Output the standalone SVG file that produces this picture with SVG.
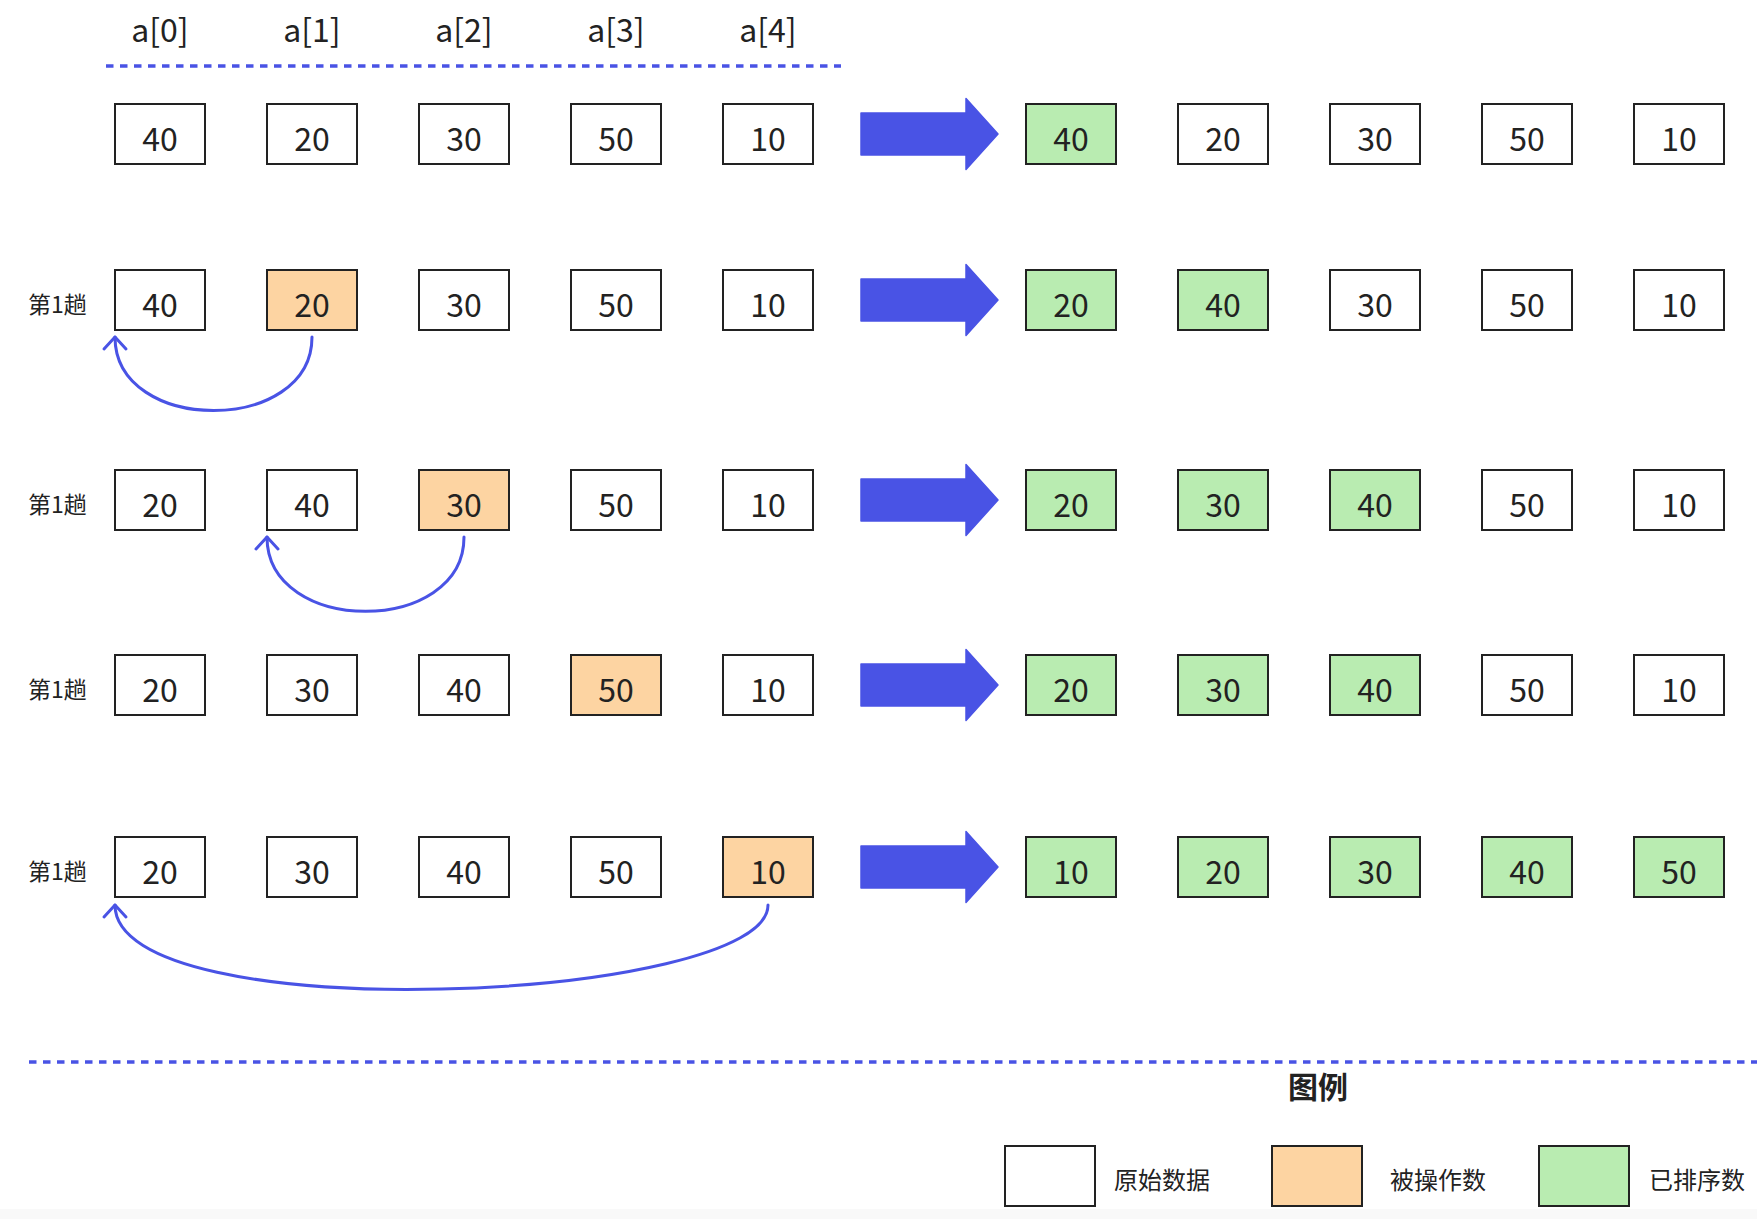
<svg xmlns="http://www.w3.org/2000/svg" width="1757" height="1219" viewBox="0 0 1757 1219">
<style>
text{font-family:"Noto Sans CJK SC","Noto Sans",sans-serif;fill:#222}
.b{stroke:#222;stroke-width:2}
.w{fill:#fff}
.o{fill:#fdd4a2}
.g{fill:#b9ecb1}
.v{font-size:32px;text-anchor:middle}
.h{font-size:32px;text-anchor:middle}
.lab{font-size:23px}
.leg{font-size:24px}
.dash{stroke:#4953e5;stroke-width:3.3;stroke-dasharray:7.5 6.5;fill:none}
.curve{fill:none;stroke:#4953e5;stroke-width:3;stroke-linecap:round}
.big{fill:#4953e5;stroke:#4953e5;stroke-width:1.5;stroke-linejoin:round}
</style>
<defs>
<marker id="chev" viewBox="-16 -16 32 32" markerWidth="32" markerHeight="32" refX="0" refY="0" orient="auto" markerUnits="userSpaceOnUse">
<path d="M-12,-11 L0,0 L-12,11" fill="none" stroke="#4953e5" stroke-width="3" stroke-linecap="round" stroke-linejoin="round"/>
</marker>
<path id="bigarrow" d="M861,-21 H966 V-35.5 L998,0 L966,35.5 V21 H861 Z"/>
</defs>
<rect x="0" y="0" width="1757" height="1219" fill="#fff"/>
<rect x="0" y="1209" width="1757" height="10" fill="#f9f9f9"/>

<g id="header">
<text class="h" x="160" y="42">a[0]</text>
<text class="h" x="312" y="42">a[1]</text>
<text class="h" x="464" y="42">a[2]</text>
<text class="h" x="616" y="42">a[3]</text>
<text class="h" x="768" y="42">a[4]</text>
<line class="dash" x1="106" y1="66" x2="841" y2="66"/>
</g>

<!-- Row 1 -->
<g id="row1-left">
<rect class="b w" x="115" y="104" width="90" height="60"/><text class="v" x="160" y="150.5">40</text>
<rect class="b w" x="267" y="104" width="90" height="60"/><text class="v" x="312" y="150.5">20</text>
<rect class="b w" x="419" y="104" width="90" height="60"/><text class="v" x="464" y="150.5">30</text>
<rect class="b w" x="571" y="104" width="90" height="60"/><text class="v" x="616" y="150.5">50</text>
<rect class="b w" x="723" y="104" width="90" height="60"/><text class="v" x="768" y="150.5">10</text>
</g>
<g id="row1-right">
<rect class="b g" x="1026" y="104" width="90" height="60"/><text class="v" x="1071" y="150.5">40</text>
<rect class="b w" x="1178" y="104" width="90" height="60"/><text class="v" x="1223" y="150.5">20</text>
<rect class="b w" x="1330" y="104" width="90" height="60"/><text class="v" x="1375" y="150.5">30</text>
<rect class="b w" x="1482" y="104" width="90" height="60"/><text class="v" x="1527" y="150.5">50</text>
<rect class="b w" x="1634" y="104" width="90" height="60"/><text class="v" x="1679" y="150.5">10</text>
</g>

<!-- Row 2 -->
<g id="row2-left">
<text class="lab" x="28" y="313">第1趟</text>
<rect class="b w" x="115" y="270" width="90" height="60"/><text class="v" x="160" y="316.5">40</text>
<rect class="b o" x="267" y="270" width="90" height="60"/><text class="v" x="312" y="316.5">20</text>
<rect class="b w" x="419" y="270" width="90" height="60"/><text class="v" x="464" y="316.5">30</text>
<rect class="b w" x="571" y="270" width="90" height="60"/><text class="v" x="616" y="316.5">50</text>
<rect class="b w" x="723" y="270" width="90" height="60"/><text class="v" x="768" y="316.5">10</text>
</g>
<g id="row2-right">
<rect class="b g" x="1026" y="270" width="90" height="60"/><text class="v" x="1071" y="316.5">20</text>
<rect class="b g" x="1178" y="270" width="90" height="60"/><text class="v" x="1223" y="316.5">40</text>
<rect class="b w" x="1330" y="270" width="90" height="60"/><text class="v" x="1375" y="316.5">30</text>
<rect class="b w" x="1482" y="270" width="90" height="60"/><text class="v" x="1527" y="316.5">50</text>
<rect class="b w" x="1634" y="270" width="90" height="60"/><text class="v" x="1679" y="316.5">10</text>
</g>

<!-- Row 3 -->
<g id="row3-left">
<text class="lab" x="28" y="513">第1趟</text>
<rect class="b w" x="115" y="470" width="90" height="60"/><text class="v" x="160" y="516.5">20</text>
<rect class="b w" x="267" y="470" width="90" height="60"/><text class="v" x="312" y="516.5">40</text>
<rect class="b o" x="419" y="470" width="90" height="60"/><text class="v" x="464" y="516.5">30</text>
<rect class="b w" x="571" y="470" width="90" height="60"/><text class="v" x="616" y="516.5">50</text>
<rect class="b w" x="723" y="470" width="90" height="60"/><text class="v" x="768" y="516.5">10</text>
</g>
<g id="row3-right">
<rect class="b g" x="1026" y="470" width="90" height="60"/><text class="v" x="1071" y="516.5">20</text>
<rect class="b g" x="1178" y="470" width="90" height="60"/><text class="v" x="1223" y="516.5">30</text>
<rect class="b g" x="1330" y="470" width="90" height="60"/><text class="v" x="1375" y="516.5">40</text>
<rect class="b w" x="1482" y="470" width="90" height="60"/><text class="v" x="1527" y="516.5">50</text>
<rect class="b w" x="1634" y="470" width="90" height="60"/><text class="v" x="1679" y="516.5">10</text>
</g>

<!-- Row 4 -->
<g id="row4-left">
<text class="lab" x="28" y="698">第1趟</text>
<rect class="b w" x="115" y="655" width="90" height="60"/><text class="v" x="160" y="701.5">20</text>
<rect class="b w" x="267" y="655" width="90" height="60"/><text class="v" x="312" y="701.5">30</text>
<rect class="b w" x="419" y="655" width="90" height="60"/><text class="v" x="464" y="701.5">40</text>
<rect class="b o" x="571" y="655" width="90" height="60"/><text class="v" x="616" y="701.5">50</text>
<rect class="b w" x="723" y="655" width="90" height="60"/><text class="v" x="768" y="701.5">10</text>
</g>
<g id="row4-right">
<rect class="b g" x="1026" y="655" width="90" height="60"/><text class="v" x="1071" y="701.5">20</text>
<rect class="b g" x="1178" y="655" width="90" height="60"/><text class="v" x="1223" y="701.5">30</text>
<rect class="b g" x="1330" y="655" width="90" height="60"/><text class="v" x="1375" y="701.5">40</text>
<rect class="b w" x="1482" y="655" width="90" height="60"/><text class="v" x="1527" y="701.5">50</text>
<rect class="b w" x="1634" y="655" width="90" height="60"/><text class="v" x="1679" y="701.5">10</text>
</g>

<!-- Row 5 -->
<g id="row5-left">
<text class="lab" x="28" y="880">第1趟</text>
<rect class="b w" x="115" y="837" width="90" height="60"/><text class="v" x="160" y="883.5">20</text>
<rect class="b w" x="267" y="837" width="90" height="60"/><text class="v" x="312" y="883.5">30</text>
<rect class="b w" x="419" y="837" width="90" height="60"/><text class="v" x="464" y="883.5">40</text>
<rect class="b w" x="571" y="837" width="90" height="60"/><text class="v" x="616" y="883.5">50</text>
<rect class="b o" x="723" y="837" width="90" height="60"/><text class="v" x="768" y="883.5">10</text>
</g>
<g id="row5-right">
<rect class="b g" x="1026" y="837" width="90" height="60"/><text class="v" x="1071" y="883.5">10</text>
<rect class="b g" x="1178" y="837" width="90" height="60"/><text class="v" x="1223" y="883.5">20</text>
<rect class="b g" x="1330" y="837" width="90" height="60"/><text class="v" x="1375" y="883.5">30</text>
<rect class="b g" x="1482" y="837" width="90" height="60"/><text class="v" x="1527" y="883.5">40</text>
<rect class="b g" x="1634" y="837" width="90" height="60"/><text class="v" x="1679" y="883.5">50</text>
</g>

<g id="connectors">
<use href="#bigarrow" class="big" transform="translate(0,134)"/>
<use href="#bigarrow" class="big" transform="translate(0,300)"/>
<use href="#bigarrow" class="big" transform="translate(0,500)"/>
<use href="#bigarrow" class="big" transform="translate(0,685)"/>
<use href="#bigarrow" class="big" transform="translate(0,867)"/>
<path class="curve" d="M312,337 C312,435 115,435 115,337" marker-end="url(#chev)"/>
<path class="curve" d="M464,537 C464,636 267,636 267,537" marker-end="url(#chev)"/>
<path class="curve" d="M768,905 C768,1002 115,1032 115,905" marker-end="url(#chev)"/>
</g>

<line class="dash" x1="29" y1="1062" x2="1757" y2="1062"/>

<g id="legend">
<text x="1318" y="1098" font-size="30" font-weight="bold" text-anchor="middle">图例</text>
<rect class="b w" x="1005" y="1146" width="90" height="60"/>
<text class="leg" x="1114" y="1189">原始数据</text>
<rect class="b o" x="1272" y="1146" width="90" height="60"/>
<text class="leg" x="1390" y="1189">被操作数</text>
<rect class="b g" x="1539" y="1146" width="90" height="60"/>
<text class="leg" x="1649" y="1189">已排序数</text>
</g>
</svg>
